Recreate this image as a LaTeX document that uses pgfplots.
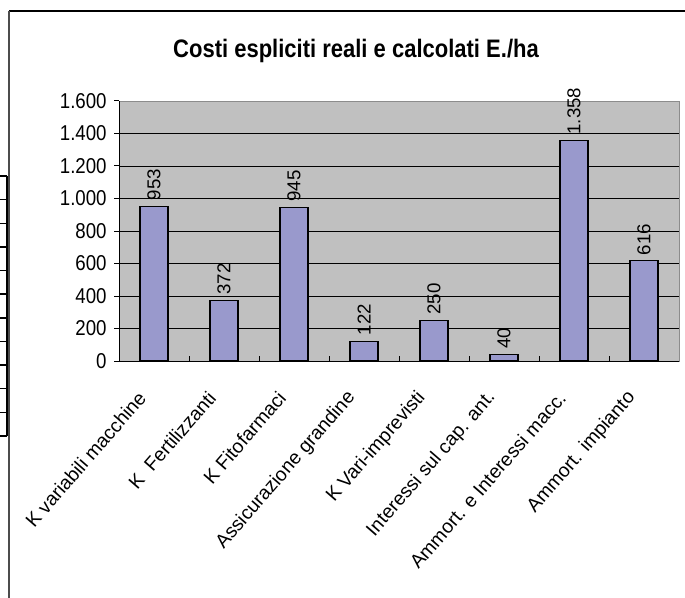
\documentclass[border=0pt]{standalone}
\usepackage{fontspec}
\setmainfont{Liberation Sans}
\usepackage{pgfplots}
\pgfplotsset{compat=1.18}
\definecolor{barcol}{RGB}{153,153,204}
\definecolor{plotbg}{RGB}{192,192,192}

\begin{document}
\begin{tikzpicture}[x=0.75pt,y=-0.75pt]
% page in pixel units of the reference (685 x 598)
\useasboundingbox (0,0) rectangle (685,598);
\draw[line width=1.1pt] (9,11) -- (685,11);
\draw[black!70, line width=0.8pt] (9,11) -- (9,598);
% cut-off table at the left border
\draw[line width=1.2pt] (7,176) -- (7,436);
\foreach \i in {0,...,11}
  \draw[line width=1.1pt] (0,{176+\i*23.64}) -- (7,{176+\i*23.64});

\node[font=\bfseries\fontsize{16.5}{19}\selectfont, yscale=1.15] at (356,51)
  {Costi espliciti reali e calcolati E./ha};

\begin{axis}[
  at={(89.25pt,-270.75pt)}, anchor=south west,
  scale only axis, width=420pt, height=195pt,
  xmin=-0.5, xmax=7.5, ymin=0, ymax=1600,
  axis x line*=bottom, axis y line*=left,
  axis line style={black, line width=0.75pt},
  axis background/.style={fill=plotbg, draw=black!45},
  ytick={0,200,...,1400}, extra y ticks={1600}, extra y tick style={grid=none},
  ymajorgrids, major grid style={black, line width=0.6pt},
  tick align=outside, major tick length=3.75pt,
  tick style={black, line width=0.75pt},
  xtick={0,...,7},
  xticklabels={K variabili macchine, K\ \ Fertilizzanti, K Fitofarmaci,
    Assicurazione grandine, K Vari-imprevisti, Interessi sul cap. ant.,
    Ammort. e Interessi macc., Ammort. impianto},
  x tick style={draw=none},
  extra x ticks={0.5,1.5,...,6.5}, extra x tick labels={},
  extra x tick style={tick align=inside, x tick style={draw=black, line width=0.75pt}},
  tick label style={font=\fontsize{14}{16}\selectfont},
  yticklabel style={xshift=-2pt, yscale=1.15},
  xticklabel style={xshift=-6.75pt, yshift=-18.75pt, rotate=49, anchor=east,
    font=\fontsize{14.5}{16}\selectfont},
  /pgf/number format/1000 sep={.},
  /pgf/number format/assume math mode=true,
  ybar, bar width=21pt,
  nodes near coords,
  every node near coord/.append style={rotate=90, anchor=west,
    font=\fontsize{14}{16}\selectfont, black, inner sep=4pt},
]
\addplot[fill=barcol, draw=black, line width=0.8pt] coordinates {
  (0,953) (1,372) (2,945) (3,122) (4,250) (5,40) (6,1358) (7,616)
};
\end{axis}
\end{tikzpicture}
\end{document}
